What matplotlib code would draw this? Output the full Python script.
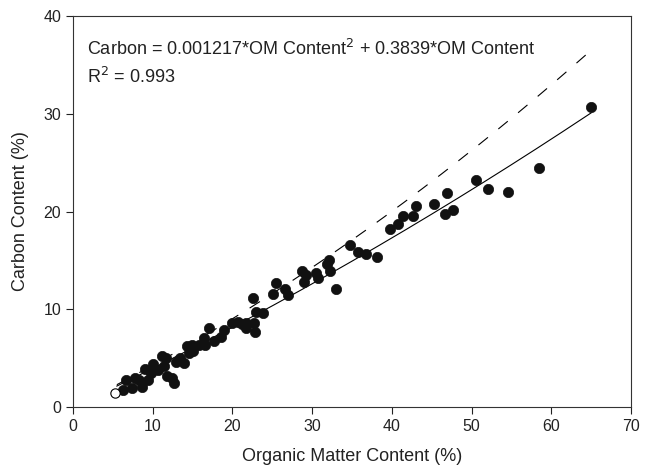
import numpy as np
import matplotlib
matplotlib.use("Agg")
import matplotlib.pyplot as plt

plt.rcParams['font.family'] = ['Liberation Sans', 'DejaVu Sans']

# Data
om_open = [5.3]
c_open = [1.46]

om = [6.3, 6.7, 7.4, 7.8, 8.3, 8.6, 9.0, 9.4, 9.8, 10.0, 10.7, 11.2, 11.4, 11.7, 11.8,
      12.4, 12.7, 12.9, 13.4, 13.9, 14.3, 14.6, 14.9, 15.1, 15.8, 16.4, 16.6, 17.0, 17.7,
      18.6, 18.9, 19.9, 20.7, 21.2, 21.7, 21.7, 22.6, 22.7, 22.8, 23.0, 23.8, 25.1, 25.4,
      26.6, 27.0, 28.7, 29.0, 29.2, 30.5, 30.7, 31.8, 32.1, 32.2, 33.0, 34.8, 35.7, 36.8,
      38.1, 39.7, 40.7, 41.4, 42.7, 43.0, 45.3, 46.7, 46.9, 47.6, 50.5, 52.0, 54.5, 58.4,
      65.0]
carbon = [1.7, 2.8, 2.0, 3.0, 2.8, 2.1, 3.9, 2.8, 3.5, 4.4, 3.8, 5.2, 4.2, 5.0, 3.2,
          3.0, 2.5, 4.6, 5.0, 4.5, 6.2, 5.5, 6.4, 5.7, 6.4, 7.1, 6.4, 8.1, 6.8,
          7.2, 7.9, 8.6, 8.7, 8.5, 8.1, 8.6, 11.2, 8.6, 7.7, 9.7, 9.6, 11.6, 12.7,
          12.1, 11.5, 13.9, 12.8, 13.5, 13.7, 13.2, 14.6, 15.0, 13.9, 12.1, 16.6, 15.9, 15.7,
          15.3, 18.2, 18.7, 19.5, 19.5, 20.6, 20.8, 19.7, 21.9, 20.2, 23.2, 22.3, 22.0, 24.4,
          30.7]

# Fitted quadratic (solid) and reference curve (dashed)
fit_a2, fit_a1 = 0.001217, 0.3839
fit_range = (5.5, 65.0)
ref_a2, ref_a1 = 0.00244, 0.403
ref_range = (5.5, 65.1)

x_ticks = [0, 10, 20, 30, 40, 50, 60, 70]
y_ticks = [0, 10, 20, 30, 40]

fig = plt.figure(figsize=(6.46, 4.69), dpi=100)
ax = fig.add_axes([0.113, 0.132, 0.864, 0.834])

xf = np.linspace(*fit_range, 200)
ax.plot(xf, fit_a2 * xf**2 + fit_a1 * xf, color='black', lw=0.8, zorder=2)
xr = np.linspace(*ref_range, 200)
ax.plot(xr, ref_a2 * xr**2 + ref_a1 * xr, color='black', lw=0.8,
        dashes=(11, 12), zorder=2)

ax.scatter(om, carbon, s=55, color='#111111', edgecolors='#111111', linewidths=0.5, zorder=3)
ax.scatter(om_open, c_open, s=45, facecolors='white', edgecolors='black', linewidths=0.8, zorder=3)

ax.set_xlim(0, 70)
ax.set_ylim(0, 40)
ax.set_xticks(x_ticks)
ax.set_yticks(y_ticks)
ax.tick_params(direction='out', length=5, width=0.8, labelsize=11.5, top=False, right=False,
               colors='#222222')
for sp in ax.spines.values():
    sp.set_linewidth(0.8)
    sp.set_color('#333333')

ax.set_xlabel('Organic Matter Content (%)', fontsize=13, labelpad=10, color='#222222')
ax.set_ylabel('Carbon Content (%)', fontsize=13, labelpad=10, color='#222222')

ax.text(0.025, 0.915, r'Carbon = 0.001217*OM Content$^2$ + 0.3839*OM Content',
        transform=ax.transAxes, fontsize=13, va='center', ha='left', color='#222222')
ax.text(0.025, 0.843, r'R$^2$ = 0.993',
        transform=ax.transAxes, fontsize=13, va='center', ha='left', color='#222222')

fig.savefig('out.png', dpi=100)
